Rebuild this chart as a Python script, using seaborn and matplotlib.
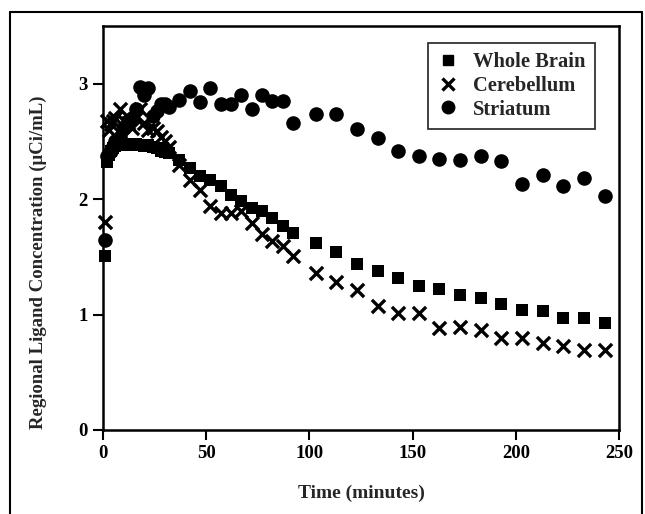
import numpy as np
import pandas as pd
import matplotlib
matplotlib.use("Agg")
import matplotlib.pyplot as plt
import seaborn as sns
from matplotlib.lines import Line2D

# ---- data ----
time_min = [1, 2, 3, 4, 5, 6, 8, 10, 12, 14, 16, 18, 20, 22, 24, 26, 28, 30, 32,
            37, 42, 47, 52, 57, 62, 67, 72, 77, 82, 87, 92,
            103, 113, 123, 133, 143, 153, 163, 173, 183, 193, 203, 213, 223, 233, 243]

whole_brain = [1.51, 2.32, 2.38, 2.42, 2.44, 2.46, 2.48, 2.47, 2.48, 2.47, 2.48, 2.47, 2.46, 2.47, 2.45, 2.44, 2.42, 2.41, 2.40,
               2.34, 2.27, 2.20, 2.17, 2.11, 2.04, 1.98, 1.92, 1.90, 1.84, 1.77, 1.71,
               1.62, 1.54, 1.44, 1.38, 1.32, 1.25, 1.22, 1.17, 1.14, 1.09, 1.04, 1.03, 0.97, 0.97, 0.93]

cerebellum = [1.80, 2.68, 2.60, 2.65, 2.68, 2.70, 2.78, 2.68, 2.66, 2.62, 2.70, 2.78, 2.66, 2.60, 2.62, 2.59, 2.54, 2.50, 2.45,
              2.30, 2.17, 2.08, 1.94, 1.88, 1.88, 1.90, 1.79, 1.70, 1.64, 1.59, 1.51,
              1.36, 1.28, 1.21, 1.07, 1.01, 1.01, 0.88, 0.89, 0.87, 0.80, 0.80, 0.75, 0.73, 0.69, 0.69]

striatum = [1.65, 2.37, 2.40, 2.42, 2.46, 2.50, 2.54, 2.62, 2.68, 2.70, 2.78, 2.97, 2.90, 2.96, 2.72, 2.76, 2.82, 2.82, 2.80,
            2.86, 2.94, 2.84, 2.96, 2.82, 2.82, 2.90, 2.78, 2.90, 2.85, 2.85, 2.66,
            2.74, 2.74, 2.61, 2.53, 2.42, 2.37, 2.35, 2.34, 2.37, 2.33, 2.13, 2.21, 2.11, 2.18, 2.03]

series_names = ["Whole Brain", "Cerebellum", "Striatum"]
x_ticks = [0, 50, 100, 150, 200, 250]
y_ticks = [0, 1, 2, 3]

df = pd.DataFrame({"time": time_min, "Whole Brain": whole_brain,
                   "Cerebellum": cerebellum, "Striatum": striatum})

sns.set_style("ticks")
plt.rcParams["font.family"] = ["Liberation Serif", "DejaVu Serif"]
plt.rcParams["font.weight"] = "bold"

fig = plt.figure(figsize=(6.45, 5.14), dpi=100)
ax = fig.add_axes([103/645, 1 - 430/514, (619-103)/645, (430-26)/514])

sns.scatterplot(data=df, x="time", y="Whole Brain", marker="s", s=78, color="black",
                edgecolor="black", linewidth=0, ax=ax, label="Whole Brain", clip_on=False, zorder=3)
sns.scatterplot(data=df, x="time", y="Cerebellum", marker="x", s=90, color="black",
                linewidth=2.4, ax=ax, label="Cerebellum", clip_on=False, zorder=3)
sns.scatterplot(data=df, x="time", y="Striatum", marker="o", s=110, color="black",
                edgecolor="black", linewidth=0, ax=ax, label="Striatum", clip_on=False, zorder=3)

ax.set_xlim(0, 250)
ax.set_ylim(0, 3.5)
ax.set_xticks(x_ticks)
ax.set_yticks(y_ticks)
ax.set_xlabel("")
ax.set_ylabel("")
for sp in ax.spines.values():
    sp.set_visible(True)
    sp.set_linewidth(1.8)
    sp.set_color("black")
ax.tick_params(axis="both", direction="out", length=7, width=1.5, colors="black",
               labelsize=13.5, pad=4)
for lab in ax.get_xticklabels() + ax.get_yticklabels():
    lab.set_fontweight("bold")

handles = [Line2D([], [], marker="s", color="black", linestyle="none", markersize=7.5),
           Line2D([], [], marker="x", color="black", linestyle="none", markersize=8.5, markeredgewidth=2.4),
           Line2D([], [], marker="o", color="black", linestyle="none", markersize=9)]
leg = ax.legend(handles, series_names, loc="upper right", bbox_to_anchor=(595/645, 1 - 43/514),
                bbox_transform=fig.transFigure, frameon=True, fancybox=False,
                prop={"family": "Liberation Serif", "weight": "bold", "size": 14.8},
                labelspacing=0.18, handlelength=1.0, handletextpad=0.75, borderpad=0.45,
                borderaxespad=0)
leg.get_frame().set_edgecolor("black")
leg.get_frame().set_linewidth(1.3)

fig.text(361/645, 1 - 493/514, "Time (minutes)", ha="center", va="center",
         fontsize=14, fontweight="bold")
fig.text(38/645, 1 - 262/514, "Regional Ligand Concentration (\u03bcCi/mL)", ha="center",
         va="center", rotation=90, fontsize=13.5, fontweight="bold")

# outer frame
for xs, ys in [([10/645, 10/645], [0, 1 - 12/514]),
               ([10/645, 642/645], [1 - 12/514, 1 - 12/514]),
               ([642/645, 642/645], [1 - 12/514, 0])]:
    fig.add_artist(Line2D(xs, ys, transform=fig.transFigure, color="black", linewidth=1.5))

fig.savefig("out.png", dpi=100)
